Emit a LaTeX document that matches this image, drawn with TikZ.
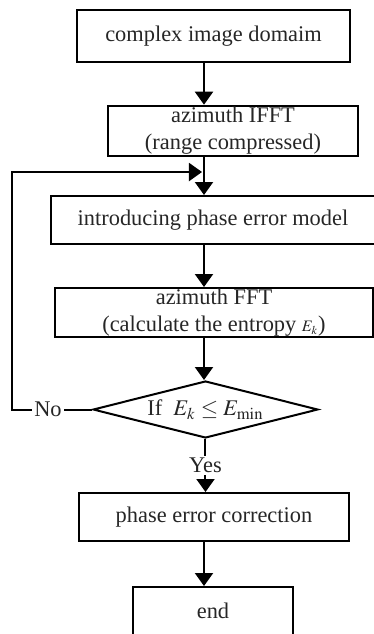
\documentclass[tikz,border=0pt]{standalone}
\usepackage{mathptmx}
\usepackage[no-math]{fontspec}
\setmainfont{Liberation Serif}
\usetikzlibrary{shapes.geometric, arrows.meta}

\begin{document}
\begin{tikzpicture}[x=0.5pt,y=-0.5pt,->,>={Triangle[width=9pt,length=6.5pt]},line width=1pt,
    font=\fontsize{11.2}{13.5}\selectfont,
    box/.style={draw,rectangle,align=center,inner sep=0pt,text=black!85},
    cond/.style={draw,diamond,aspect=3.95,inner sep=0pt,text=black!85}]
    \useasboundingbox (0,0) rectangle (374,634);

    \node[box,minimum width=136.5pt,minimum height=26pt,line width=1.4pt] (dom) at (213.5,36) {complex image domaim};
    \node[box,minimum width=125pt,minimum height=25pt,line width=1.3pt] (ifft) at (233,131) {azimuth IFFT\\(range compressed)};
    % right side runs off the page
    \node[box,minimum width=170pt,minimum height=24pt,anchor=west] (model) at (50,220) {\hspace*{-8pt}introducing phase error model};
    \node[box,minimum width=159pt,minimum height=24.5pt] (fft) at (214,312.5) {azimuth FFT\\(calculate the entropy {\footnotesize$E_k$})};
    \node[cond,minimum width=112.5pt,minimum height=28.5pt] (dec) at (205.5,409.5) {If~~$E_k \le E_{\min}$};
    \node[box,minimum width=135pt,minimum height=24pt] (corr) at (214,517) {phase error correction};
    \node[box,minimum width=80pt,minimum height=24pt] (endb) at (213,611) {end};

    \coordinate (ax) at (204,0);
    \coordinate (join) at (204,172);
    \coordinate (side) at (12,0);

    \path (dom.south -| ax) edge (ifft.north -| ax)
          (ifft.south -| ax) edge (model.north -| ax)
          (model.south -| ax) edge (fft.north -| ax)
          (fft.south -| ax) edge (dec.north -| ax)
          (dec.south) edge node[fill=white,inner sep=1pt,pos=0.5,text=black!85] {Yes} (corr.north -| dec.south)
          (corr.south -| ax) edge (endb.north -| ax);

    \draw[shorten >=1pt] (dec.west) -- node[fill=white,inner sep=1pt,pos=0.55,text=black!85] {No} (dec.west -| side) |- (join);
\end{tikzpicture}
\end{document}
